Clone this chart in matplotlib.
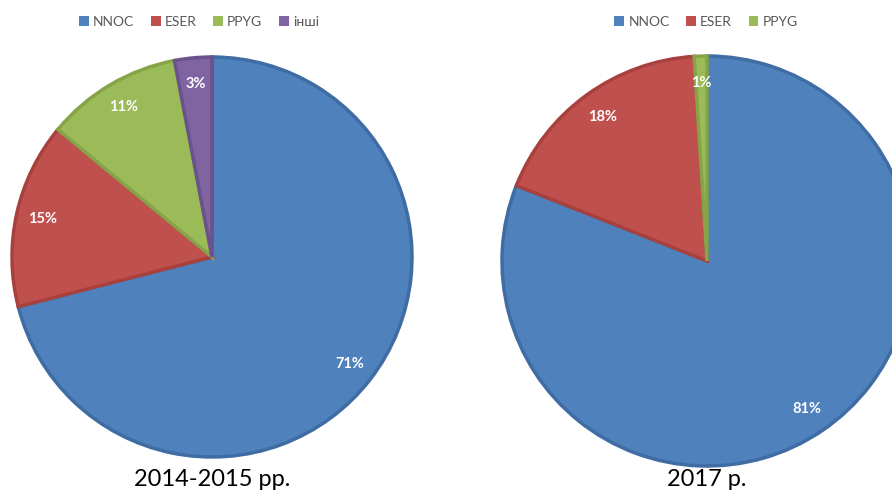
import matplotlib.pyplot as plt
from matplotlib.patches import Patch

plt.rcParams['font.family'] = ['Lato', 'Open Sans', 'DejaVu Sans']

# shares by period, %
labels_1 = ['NNOC', 'ESER', 'PPYG', 'інші']
values_1 = [71, 15, 11, 3]
title_1 = '2014-2015 pp.'

labels_2 = ['NNOC', 'ESER', 'PPYG']
values_2 = [81, 18, 1]
title_2 = '2017 p.'

fills = ['#4F81BD', '#C0504D', '#9BBB59', '#8064A2']
edges = ['#3F6CA3', '#A8413E', '#86A447', '#6A528C']

W, H = 892, 491
fig = plt.figure(figsize=(W / 100, H / 100), dpi=100)


def draw_pie(cx, cy, r, values, labels, title, leg_x):
    ax = fig.add_axes([(cx - r) / W, (H - cy - r) / H, 2 * r / W, 2 * r / H])
    wedges, texts, autotexts = ax.pie(
        values, colors=fills[:len(values)], startangle=90, counterclock=False,
        autopct='%d%%', pctdistance=0.87,
        wedgeprops=dict(linewidth=2.5),
        textprops=dict(color='white', fontsize=10.5, fontweight='bold'))
    for w, ec in zip(wedges, edges):
        w.set_edgecolor(ec)
    ax.set_xlim(-1, 1)
    ax.set_ylim(-1, 1)
    ax.set_aspect('equal')
    ax.axis('off')
    fig.text(cx / W, 1 - 479 / H, title, ha='center', va='center',
             fontsize=17, color='black')
    handles = [Patch(facecolor=fills[i], edgecolor='none')
               for i in range(len(labels))]
    fig.legend(handles, labels, loc='center', bbox_to_anchor=(leg_x / W, 1 - 22 / H),
               ncol=len(labels), frameon=False, fontsize=10, labelcolor='#595959',
               handlelength=0.7, handleheight=0.7, handletextpad=0.3,
               columnspacing=1.2)


draw_pie(212, 257, 200, values_1, labels_1, title_1, 199)
draw_pie(707, 261, 205, values_2, labels_2, title_2, 706)

fig.savefig('out.png', dpi=100)
